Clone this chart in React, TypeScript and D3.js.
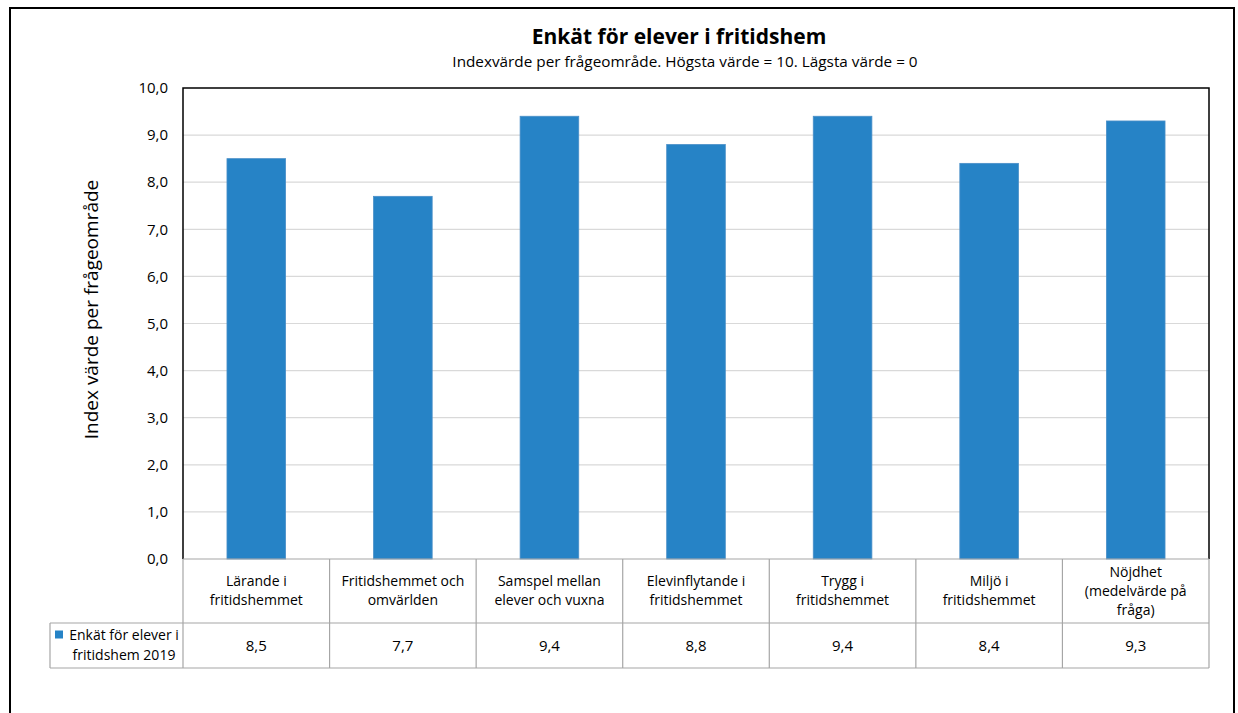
import { useEffect, useRef } from 'react';
import * as d3 from 'd3';

const categories = [
    ['Lärande i', 'fritidshemmet'],
    ['Fritidshemmet och', 'omvärlden'],
    ['Samspel mellan', 'elever och vuxna'],
    ['Elevinflytande i', 'fritidshemmet'],
    ['Trygg i', 'fritidshemmet'],
    ['Miljö i', 'fritidshemmet'],
    ['Nöjdhet', '(medelvärde på', 'fråga)'],
];
const values = [8.5, 7.7, 9.4, 8.8, 9.4, 8.4, 9.3];
const seriesLabel = ['Enkät för elever i', 'fritidshem 2019'];
const yTicks = [0, 1, 2, 3, 4, 5, 6, 7, 8, 9, 10];

const FONT = '"Open Sans", Lato, sans-serif';

export default function App() {
    const ref = useRef<SVGSVGElement>(null);

    useEffect(() => {
        if (!ref.current) return;
        const svg = d3.select(ref.current);
        svg.selectAll('*').remove();

        const W = 1238;
        const H = 713;
        const plot = { left: 183, right: 1209, top: 88, bottom: 559 };
        const tableMid = 623;
        const tableBottom = 668;
        const legendLeft = 50;

        svg.attr('width', W).attr('height', H).style('font-family', FONT);

        svg.append('rect').attr('width', W).attr('height', H).attr('fill', '#fff');

        // outer frame
        svg.append('rect')
            .attr('x', 10).attr('y', 8)
            .attr('width', 1224).attr('height', 720)
            .attr('fill', 'none')
            .attr('stroke', '#000')
            .attr('stroke-width', 2);

        const x = d3.scaleBand<number>()
            .domain(d3.range(values.length))
            .range([plot.left, plot.right])
            .paddingInner(0)
            .paddingOuter(0);

        const y = d3.scaleLinear().domain([0, 10]).range([plot.bottom, plot.top]);

        const fmt = (v: number) => d3.format('.1f')(v).replace('.', ',');

        // gridlines
        svg.append('g')
            .selectAll('line')
            .data(yTicks.filter(t => t > 0 && t < 10))
            .enter()
            .append('line')
            .attr('x1', plot.left).attr('x2', plot.right)
            .attr('y1', d => y(d)).attr('y2', d => y(d))
            .attr('stroke', '#d9d9d9')
            .attr('stroke-width', 1.2);

        // y tick labels
        svg.append('g')
            .selectAll('text')
            .data(yTicks)
            .enter()
            .append('text')
            .attr('x', 168)
            .attr('y', d => y(d))
            .attr('dy', '0.35em')
            .attr('text-anchor', 'end')
            .attr('font-size', '15px')
            .attr('fill', '#000')
            .text(d => fmt(d));

        // bars
        const bw = x.bandwidth() * 0.4;
        svg.append('g')
            .selectAll('rect')
            .data(values)
            .enter()
            .append('rect')
            .attr('x', (_, i) => x(i)! + (x.bandwidth() - bw) / 2)
            .attr('y', d => y(d))
            .attr('width', bw)
            .attr('height', d => y(0) - y(d))
            .attr('fill', '#2683c6')
            .attr('stroke', '#4a8fc8')
            .attr('stroke-width', 0.8);

        // plot frame (top, left, right)
        svg.append('path')
            .attr('d', `M${plot.left},${plot.bottom}V${plot.top}H${plot.right}V${plot.bottom}`)
            .attr('fill', 'none')
            .attr('stroke', '#000')
            .attr('stroke-width', 1.5);

        // data table
        const grid = svg.append('g').attr('stroke', '#a6a6a6').attr('stroke-width', 1.2).attr('fill', 'none');
        grid.append('line')
            .attr('x1', plot.left).attr('x2', plot.right)
            .attr('y1', plot.bottom).attr('y2', plot.bottom);
        grid.append('line')
            .attr('x1', legendLeft).attr('x2', plot.right)
            .attr('y1', tableMid).attr('y2', tableMid);
        grid.append('line')
            .attr('x1', legendLeft).attr('x2', plot.right)
            .attr('y1', tableBottom).attr('y2', tableBottom);
        grid.append('line')
            .attr('x1', legendLeft).attr('x2', legendLeft)
            .attr('y1', tableMid).attr('y2', tableBottom);
        grid.selectAll('.vline')
            .data(d3.range(values.length + 1))
            .enter()
            .append('line')
            .attr('x1', i => i < values.length ? x(i)! : plot.right)
            .attr('x2', i => i < values.length ? x(i)! : plot.right)
            .attr('y1', plot.bottom)
            .attr('y2', tableBottom);

        // category labels
        const lineH = 19;
        const headMid = (plot.bottom + tableMid) / 2;
        categories.forEach((lines, i) => {
            const t = svg.append('text')
                .attr('text-anchor', 'middle')
                .attr('font-size', '14px')
                .attr('fill', '#000');
            lines.forEach((ln, j) => {
                t.append('tspan')
                    .attr('x', x(i)! + x.bandwidth() / 2)
                    .attr('y', headMid + (j - (lines.length - 1) / 2) * lineH)
                    .attr('dy', '0.35em')
                    .text(ln);
            });
        });

        // values row
        const rowMid = (tableMid + tableBottom) / 2;
        svg.append('g')
            .selectAll('text')
            .data(values)
            .enter()
            .append('text')
            .attr('x', (_, i) => x(i)! + x.bandwidth() / 2)
            .attr('y', rowMid)
            .attr('dy', '0.35em')
            .attr('text-anchor', 'middle')
            .attr('font-size', '15px')
            .attr('fill', '#000')
            .text(d => fmt(d));

        // legend cell
        svg.append('rect')
            .attr('x', 55).attr('y', rowMid - 15)
            .attr('width', 8).attr('height', 8)
            .attr('fill', '#2683c6');
        seriesLabel.forEach((ln, j) => {
            svg.append('text')
                .attr('x', 124)
                .attr('y', rowMid + (j - 0.5) * 20)
                .attr('dy', '0.35em')
                .attr('text-anchor', 'middle')
                .attr('font-size', '14px')
                .attr('fill', '#000')
                .text(ln);
        });

        // titles
        svg.append('text')
            .attr('x', 679).attr('y', 37)
            .attr('dy', '0.35em')
            .attr('text-anchor', 'middle')
            .attr('font-size', '21px')
            .attr('font-weight', 'bold')
            .text('Enkät för elever i fritidshem');
        svg.append('text')
            .attr('x', 685).attr('y', 62)
            .attr('dy', '0.35em')
            .attr('text-anchor', 'middle')
            .attr('font-size', '15.3px')
            .text('Indexvärde per frågeområde. Högsta värde = 10. Lägsta värde = 0');

        // y axis title
        svg.append('text')
            .attr('transform', `translate(91,${(plot.top + plot.bottom) / 2 - 14}) rotate(-90)`)
            .attr('dy', '0.35em')
            .attr('text-anchor', 'middle')
            .attr('font-size', '19px')
            .text('Index värde per frågeområde');
    }, []);

    return (
        <div style={{ position: 'absolute', left: 0, top: 0 }}>
            <svg ref={ref} style={{ display: 'block' }} />
        </div>
    );
}
